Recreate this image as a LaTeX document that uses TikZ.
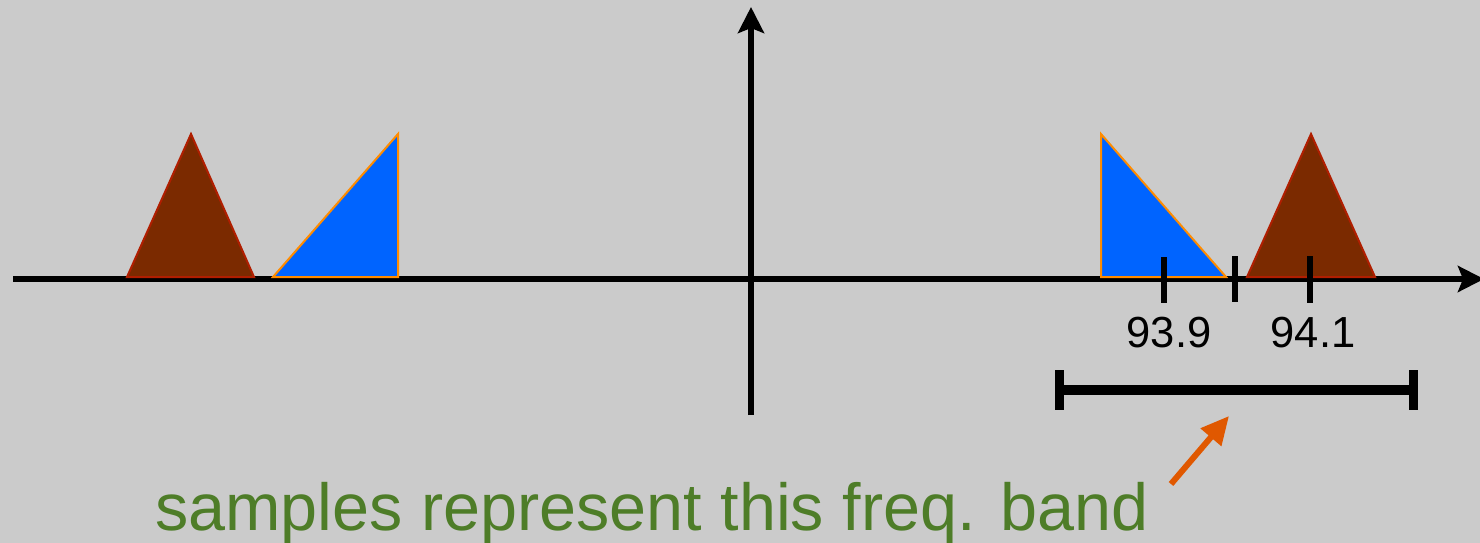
\documentclass[tikz,border=0pt]{standalone}
\usepackage{fontspec}
\setmainfont{Liberation Sans}
\usetikzlibrary{arrows.meta}
\definecolor{bg}{RGB}{203,203,203}
\definecolor{brownfill}{RGB}{123,42,0}
\definecolor{brownline}{RGB}{176,30,0}
\definecolor{bluefill}{RGB}{0,100,255}
\definecolor{blueline}{RGB}{255,140,0}
\definecolor{arroworange}{RGB}{224,88,0}
\definecolor{textgreen}{RGB}{78,125,40}
\tikzset{
  axis/.style={line width=6pt, -{Stealth[length=26pt,width=26pt,inset=5pt]}},
  browntri/.style={fill=brownfill, draw=brownline, line width=2pt, line join=miter},
  bluetri/.style={fill=bluefill, draw=blueline, line width=2pt, line join=miter},
  tickmark/.style={line width=6pt},
  ticklabel/.style={font=\fontsize{43.5}{48}\selectfont, anchor=base, inner sep=0pt},
  bandline/.style={line width=10pt},
  pointer/.style={line width=6pt, draw=arroworange, -{Triangle[length=28pt,width=26pt]}},
  caption/.style={font=\fontsize{66.5}{76}\selectfont, text=textgreen, anchor=base west, inner sep=0pt}
}
\begin{document}
\begin{tikzpicture}[x=1pt,y=-1pt]
\fill[bg] (0,0) rectangle (1480,543);
\useasboundingbox (0,0) rectangle (1480,543);
% axes
\coordinate (xl) at (13,279);
\coordinate (xr) at (1484,279);
\coordinate (yb) at (751,415);
\coordinate (yt) at (751,7);
\draw[axis] (xl) -- (xr);
\draw[axis] (yb) -- (yt);
% triangles
\draw[browntri] (127,277) -- (191,134) -- (254,277) -- cycle;
\draw[bluetri] (273,277) -- (398,134) -- (398,277) -- cycle;
\draw[bluetri] (1101,134) -- (1101,277) -- (1226,277) -- cycle;
\draw[browntri] (1247,277) -- (1311,134) -- (1375,277) -- cycle;
% ticks
\coordinate (t1a) at (1164,257); \coordinate (t1b) at (1164,303);
\coordinate (t2a) at (1235,256); \coordinate (t2b) at (1235,302);
\coordinate (t3a) at (1310,256); \coordinate (t3b) at (1310,303);
\draw[tickmark] (t1a) -- (t1b);
\draw[tickmark] (t2a) -- (t2b);
\draw[tickmark] (t3a) -- (t3b);
\node[ticklabel] (l1) at (1169,347) {93.9};
\node[ticklabel] (l2) at (1313,347) {94.1};
% band
\coordinate (bl) at (1059,390); \coordinate (br) at (1413,390);
\coordinate (bla) at (1059,370); \coordinate (blb) at (1059,410);
\coordinate (bra) at (1413,370); \coordinate (brb) at (1413,410);
\draw[bandline] (bl) -- (br);
\draw[line width=9pt] (bla) -- (blb);
\draw[line width=9pt] (bra) -- (brb);
% caption and pointer
\node[caption] (cap) at (155,530) {samples represent this freq. band};
\coordinate (ps) at (1171,484);
\coordinate (pe) at (1229,416);
\draw[pointer] (ps) -- (pe);
\end{tikzpicture}
\end{document}
